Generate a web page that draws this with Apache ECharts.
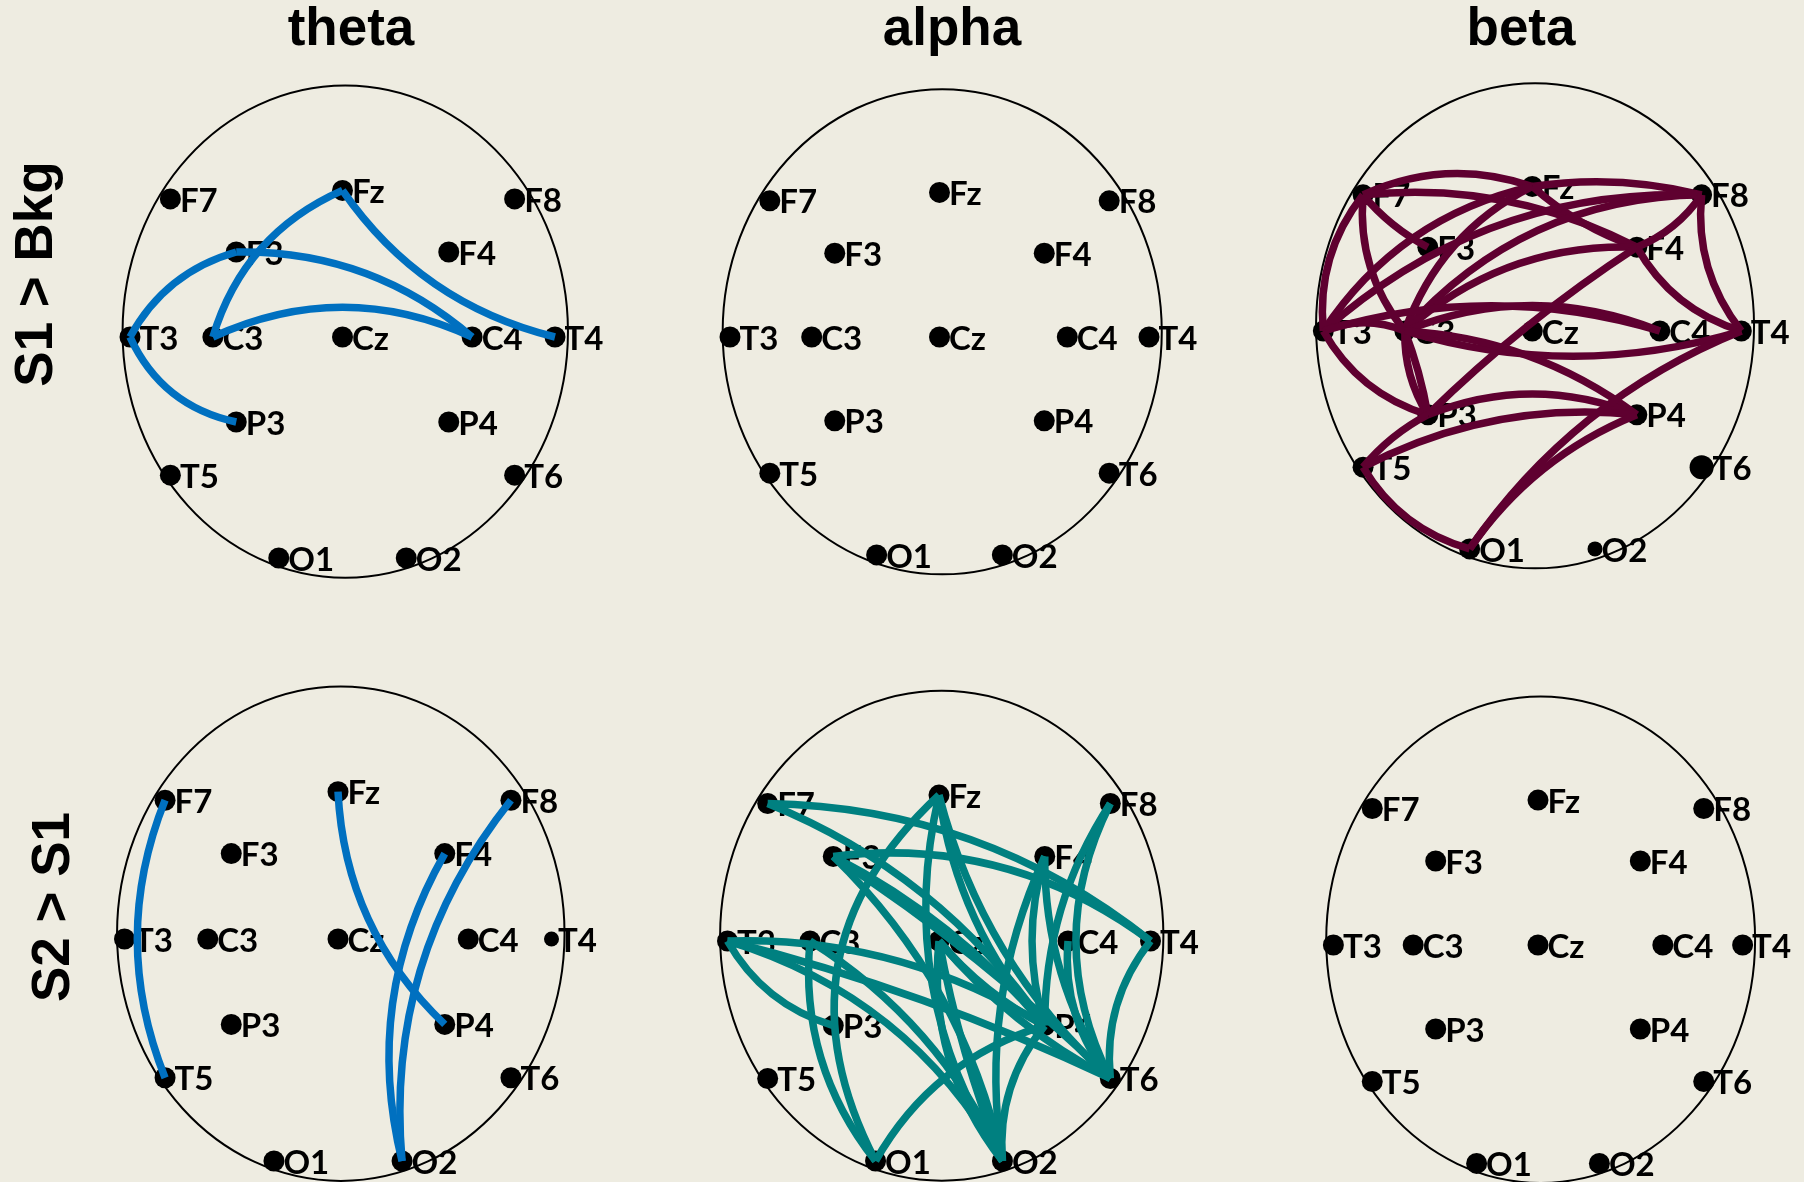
<!DOCTYPE html>
<html lang="en">
<head>
<meta charset="UTF-8"/>
<script src="https://cdn.jsdelivr.net/npm/echarts@6/dist/echarts.min.js"></script>
<title>EEG connectivity</title>
<style>
    html, body { margin: 0; padding: 0; background: #EEECE1; }
    #main { width: 1804px; height: 1182px; }
</style>
</head>
<body>
<div id="main"></div>
<script type="text/javascript">
    // electrode montage (T3..T4 = -1..1)
    var electrodes = ['F7', 'Fz', 'F8', 'F3', 'F4', 'T3', 'C3', 'Cz', 'C4', 'T4', 'P3', 'P4', 'T5', 'T6', 'O1', 'O2'];
    var posX = [-0.81, 0, 0.81, -0.5, 0.5, -1, -0.61, 0, 0.61, 1, -0.5, 0.5, -0.81, 0.81, -0.3, 0.3];
    var posY = [0.65, 0.69, 0.65, 0.40, 0.40, 0, 0, 0, 0, 0, -0.40, -0.40, -0.65, -0.65, -1.04, -1.04];

    // head outline: centre x, centre y, radius x, radius y
    var head = [0.013, 0.025, 1.048, 1.158];

    var bands = ['theta', 'alpha', 'beta'];
    var contrasts = ['S1 > Bkg', 'S2 > S1'];

    // connections: [from, to, curveness]
    var thetaS1 = [
        ['Fz', 'T4', -0.19], ['Fz', 'C3', -0.23], ['T3', 'F3', 0.21],
        ['F3', 'C4', 0.19], ['C3', 'C4', 0.23], ['T3', 'P3', -0.25]
    ];
    var alphaS1 = [];
    var betaS1 = [
        ['F7', 'Fz', 0.2], ['F7', 'F4', 0.15], ['F7', 'T3', -0.2], ['F7', 'C3', -0.2], ['F7', 'F3', -0.1],
        ['Fz', 'F8', 0.1], ['Fz', 'F4', -0.1], ['C3', 'Fz', 0.2], ['T3', 'Fz', 0.2],
        ['C3', 'F8', 0.22], ['T3', 'F8', 0.2], ['F8', 'F4', 0.15], ['F8', 'T4', -0.2],
        ['C3', 'F4', 0.2], ['F4', 'T4', -0.2], ['F4', 'P3', -0.05],
        ['T3', 'C3', 0.2], ['T3', 'C4', 0.15], ['C3', 'C4', 0.2], ['C3', 'T4', -0.15],
        ['T3', 'P3', -0.2], ['C3', 'P3', -0.15], ['C3', 'P3', 0.05], ['C3', 'P4', 0.15],
        ['P3', 'P4', 0.2], ['T5', 'P3', 0.1], ['T5', 'P4', 0.15], ['T5', 'O1', -0.2],
        ['O1', 'P4', 0.15], ['O1', 'T4', 0.15]
    ];
    var thetaS2 = [
        ['F7', 'T5', -0.2], ['Fz', 'P4', -0.2], ['F4', 'O2', -0.2], ['F8', 'O2', -0.2]
    ];
    var alphaS2 = [
        ['F7', 'T4', 0.17], ['F7', 'P4', 0.15], ['F3', 'T4', 0.2], ['F3', 'P4', 0.1], ['F3', 'T6', 0.05], ['F3', 'O2', 0.15],
        ['Fz', 'O1', -0.38], ['Fz', 'O2', -0.21], ['Fz', 'T6', -0.15], ['Fz', 'P4', -0.15],
        ['F8', 'P4', -0.15], ['F8', 'T6', -0.25], ['F4', 'O2', -0.15], ['F4', 'T6', -0.15], ['F4', 'P4', -0.15],
        ['T3', 'P3', -0.2], ['T3', 'P4', 0.15], ['T3', 'T6', 0.05], ['T3', 'O2', 0.2],
        ['C3', 'O1', -0.2], ['C3', 'O2', 0.15], ['Cz', 'O2', -0.2], ['Cz', 'O2', -0.05],
        ['Cz', 'T6', -0.1], ['Cz', 'P4', -0.1], ['C4', 'T6', -0.2], ['T4', 'T6', -0.2],
        ['O1', 'P4', 0.2], ['O2', 'P4', 0.2]
    ];
    var betaS2 = [];

    // panel layout (pixel position of Cz and size of one unit)
    var panels = [
        {cx: 342.5, cy: 337, u: 212.5, edges: thetaS1, color: '#0070C0', sizes: {}},
        {cx: 939.5, cy: 337, u: 209.5, edges: alphaS1, color: '#008080', sizes: {}},
        {cx: 1533, cy: 331, u: 209.5, edges: betaS1, color: '#5F0030', sizes: {T6: 24, O2: 15}},
        {cx: 338, cy: 939, u: 213.5, edges: thetaS2, color: '#0070C0', sizes: {T4: 15}},
        {cx: 939, cy: 941, u: 211.5, edges: alphaS2, color: '#008080', sizes: {}},
        {cx: 1545, cy: 945, u: 210, edges: betaS2, color: '#5F0030', sizes: {}}
    ];
    var xHalf = 1.3, yTop = 1.3, yBottom = 1.1;

    var grids = [], xAxes = [], yAxes = [], series = [];
    panels.forEach(function (p, k) {
        grids.push({
            left: p.cx - xHalf * p.u, top: p.cy - yTop * p.u,
            width: 2 * xHalf * p.u, height: (yTop + yBottom) * p.u
        });
        xAxes.push({type: 'value', gridIndex: k, min: -xHalf, max: xHalf, show: false});
        yAxes.push({type: 'value', gridIndex: k, min: -yBottom, max: yTop, show: false});

        series.push({
            type: 'custom', xAxisIndex: k, yAxisIndex: k, z: 1, silent: true, clip: false,
            data: [head],
            renderItem: function (params, api) {
                var c = api.coord([api.value(0), api.value(1)]);
                var s = api.size([api.value(2), api.value(3)]);
                return {
                    type: 'ellipse',
                    shape: {cx: c[0], cy: c[1], rx: s[0], ry: s[1]},
                    style: {fill: 'none', stroke: '#000', lineWidth: 2}
                };
            }
        });

        series.push({
            type: 'scatter', xAxisIndex: k, yAxisIndex: k, z: 2, silent: true, clip: false,
            data: electrodes.map(function (n, i) {
                return {name: n, value: [posX[i], posY[i]], symbolSize: p.sizes[n] || 21};
            }),
            itemStyle: {color: '#000', opacity: 1},
            label: {
                show: true, position: 'right', distance: -1, offset: [0, 2],
                formatter: '{b}', color: '#000',
                fontFamily: 'Lato', fontWeight: 'bold', fontSize: 33
            }
        });

        series.push({
            type: 'lines', coordinateSystem: 'cartesian2d', xAxisIndex: k, yAxisIndex: k, z: 3, silent: true, clip: false,
            lineStyle: {color: p.color, width: 7.5, opacity: 1},
            data: p.edges.map(function (e) {
                var a = electrodes.indexOf(e[0]), b = electrodes.indexOf(e[1]);
                return {coords: [[posX[a], posY[a]], [posX[b], posY[b]]], lineStyle: {curveness: e[2]}};
            })
        });
    });

    var titleFont = 'bold 53px "Liberation Sans", Arial, sans-serif';
    var titleX = [351, 952, 1521];
    var rowLabelPos = [[37, 274], [54, 907]];
    var graphics = [];
    bands.forEach(function (b, i) {
        graphics.push({
            type: 'text', x: titleX[i], y: 30,
            style: {text: b, font: titleFont, fill: '#000', textAlign: 'center', textVerticalAlign: 'middle', align: 'center', verticalAlign: 'middle'}
        });
    });
    contrasts.forEach(function (c, i) {
        graphics.push({
            type: 'text', x: rowLabelPos[i][0], y: rowLabelPos[i][1], rotation: Math.PI / 2,
            style: {text: c, font: titleFont, fill: '#000', textAlign: 'center', textVerticalAlign: 'middle', align: 'center', verticalAlign: 'middle'}
        });
    });

    var myChart = echarts.init(document.getElementById('main'));
    myChart.setOption({
        backgroundColor: '#EEECE1',
        animation: false,
        grid: grids,
        xAxis: xAxes,
        yAxis: yAxes,
        graphic: graphics,
        series: series
    });
</script>
</body>
</html>
